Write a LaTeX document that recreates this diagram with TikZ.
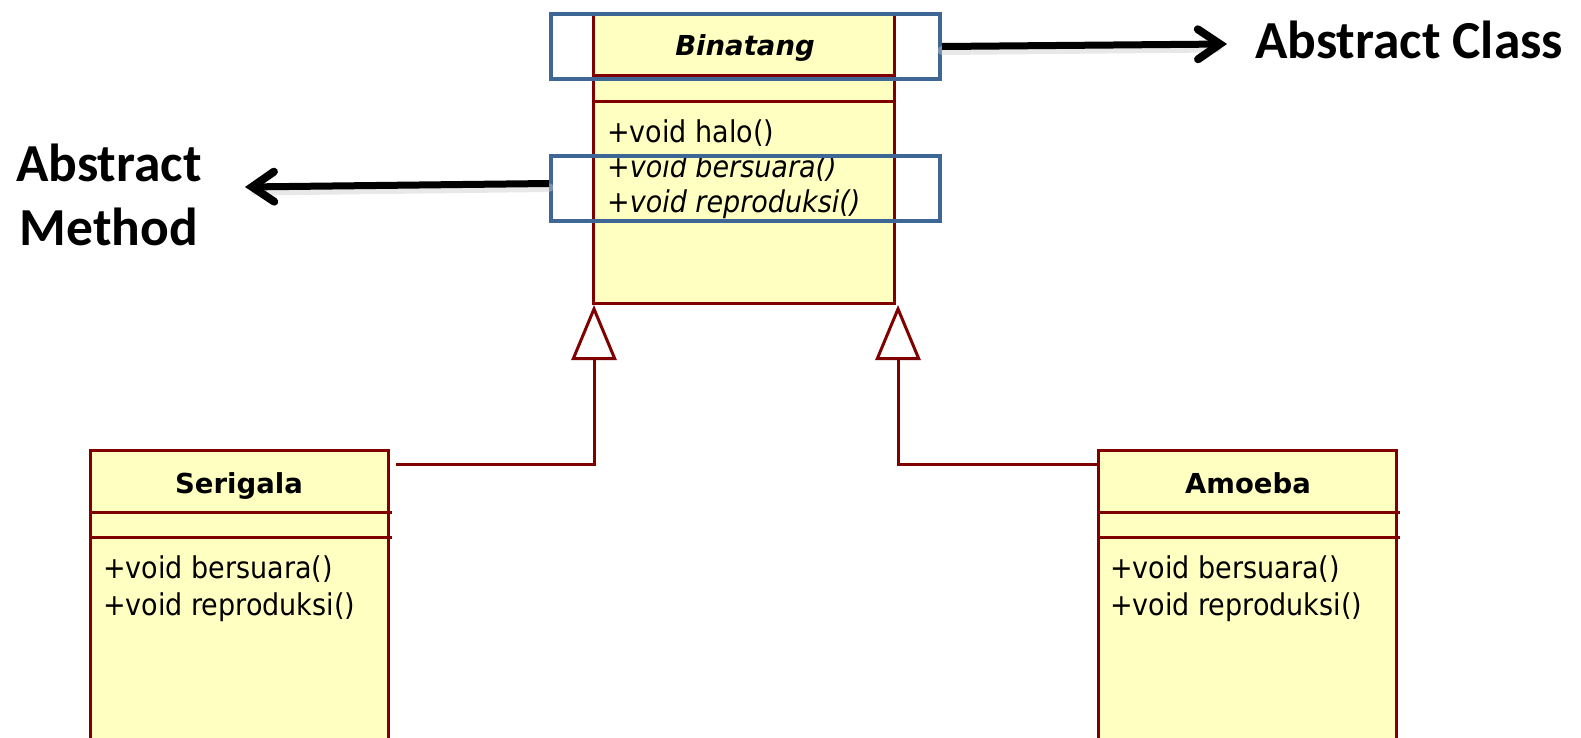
\documentclass[tikz,border=0pt]{standalone}
\usepackage{fontspec}
\newfontfamily\umlfont{DejaVu Sans}
\newfontfamily\umlcondfont{DejaVu Sans Condensed}
\newfontfamily\calloutfont{Carlito}
\usetikzlibrary{arrows.meta}
\definecolor{umlred}{RGB}{128,0,0}
\definecolor{umlfill}{RGB}{255,255,194}
\definecolor{markblue}{RGB}{62,103,150}
\begin{document}
\begin{tikzpicture}[x=1pt,y=-1pt,
  classbox/.style={draw=umlred, fill=umlfill, line width=3pt, inner sep=0pt, anchor=north west},
  umlline/.style={draw=umlred, line width=3pt},
  classname/.style={anchor=base, inner sep=0pt, font=\umlfont\bfseries\fontsize{27.5}{32}\selectfont},
  member/.style={anchor=base west, inner sep=0pt, font=\umlcondfont\fontsize{30}{32}\selectfont},
  absmember/.style={member, font=\umlcondfont\itshape\fontsize{30}{32}\selectfont},
  markbox/.style={draw=markblue, line width=4pt, inner sep=0pt, anchor=north west,
                  minimum width=389pt, minimum height=65pt},
  callout/.style={draw=black, line width=7pt,
                  -{Straight Barb[length=22pt, width=30pt, line width=8pt, line cap=round]}},
  calloutshadow/.style={draw=black!20, line width=9pt, opacity=0.45, line cap=round},
  calloutlabel/.style={inner sep=0pt, font=\calloutfont\bfseries\fontsize{53.5}{64}\selectfont},
  generalize/.style={umlline, -{Triangle[open, length=55pt, width=45pt, fill=white]}}
]
\useasboundingbox (0,0) rectangle (1581,737);
\clip (0,0) rectangle (1581,737);

% class boxes
\node[classbox, minimum width=301pt, minimum height=289pt] (binatang) at (592,13) {};
\node[classbox, minimum width=298pt, minimum height=330pt] (serigala) at (89,449) {};
\node[classbox, minimum width=298pt, minimum height=330pt] (amoeba) at (1097,449) {};

% compartment dividers
\draw[umlline] (592,75) -- (896,75);
\draw[umlline] (592,101) -- (896,101);
\draw[umlline] (89,512) -- (392,512);
\draw[umlline] (89,537) -- (392,537);
\draw[umlline] (1097,512) -- (1400,512);
\draw[umlline] (1097,537) -- (1400,537);

% abstract class
\node[classname, font=\umlfont\bfseries\itshape\fontsize{27.5}{32}\selectfont] (binatangname) at (745,55) {Binatang};
\node[member] (halo) at (607,142) {+void halo()};
\node[absmember] (absbersuara) at (607,177) {+void bersuara()};
\node[absmember] (absreproduksi) at (607,212) {+void reproduksi()};

% subclasses
\node[classname] (serigalaname) at (239,493) {Serigala};
\node[member] (serbersuara) at (103,578) {+void bersuara()};
\node[member] (serreproduksi) at (103,615) {+void reproduksi()};

\node[classname] (amoebaname) at (1248,493) {Amoeba};
\node[member] (amobersuara) at (1110,578) {+void bersuara()};
\node[member] (amoreproduksi) at (1110,615) {+void reproduksi()};

% generalization connectors
\draw[generalize] (serigala.north east) ++(6,15) -| ([xshift=2pt]binatang.south west);
\draw[generalize] (amoeba.north west) ++(0,15) -| ([xshift=2pt]binatang.south east);

% highlight frames
\node[markbox] (classmark) at (549,12) {};
\node[markbox] (methodmark) at (549,154) {};

% callouts
\node[calloutlabel, anchor=base west] (absclass) at (1255,58) {Abstract Class};
\node[calloutlabel, align=center, anchor=base] (absmethod) at (109,245) {Abstract\\Method};
\coordinate (classtip) at (1227,44);
\coordinate (methodtip) at (245,187);

\draw[calloutshadow] ([yshift=-4pt]classmark.east) -- ([xshift=-10pt,yshift=-4pt]classtip);
\draw[calloutshadow] ([yshift=1pt]methodmark.west) -- ([xshift=10pt,yshift=-4pt]methodtip);
\draw[callout] (classmark.east) -- (classtip);
\draw[callout] ([yshift=5pt]methodmark.west) -- (methodtip);
\end{tikzpicture}
\end{document}
